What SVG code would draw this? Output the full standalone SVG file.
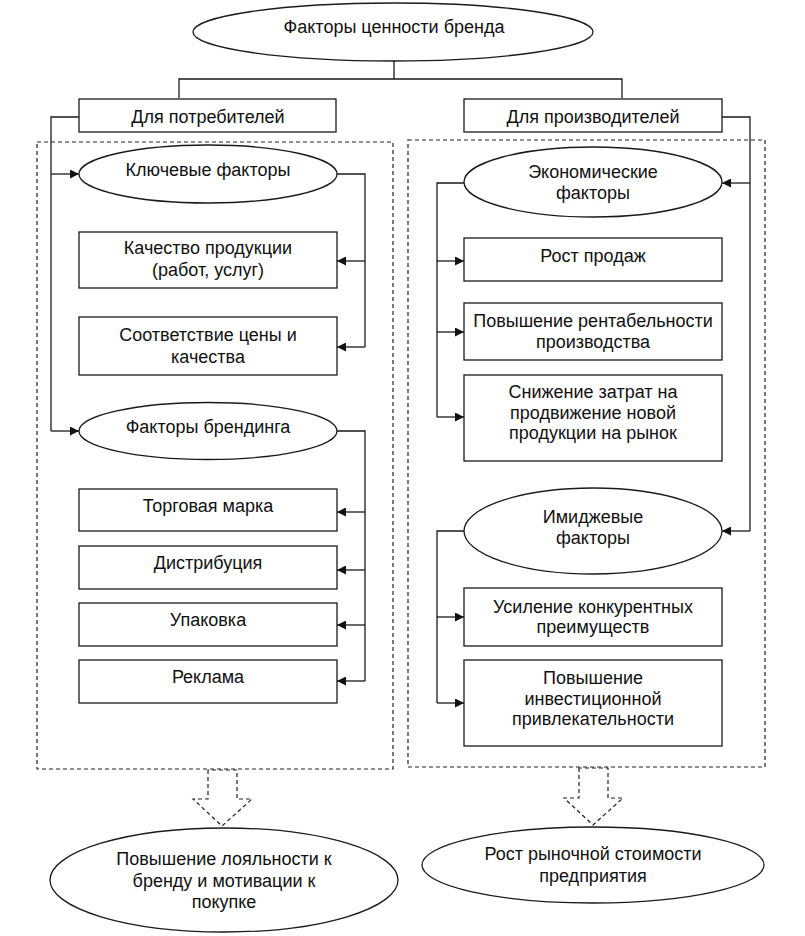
<svg xmlns="http://www.w3.org/2000/svg" width="805" height="936" viewBox="0 0 805 936">
<defs>
<style>
.n{fill:#fff;stroke:#1a1a1a;stroke-width:1.3}
.t{font-family:"Liberation Sans",Arial,sans-serif;font-size:18px;fill:#111;text-anchor:middle}
.tn{font-family:"Liberation Sans Narrow","Liberation Sans",Arial,sans-serif;font-size:18px;fill:#111;text-anchor:middle}
.c{fill:none;stroke:#1a1a1a;stroke-width:1.3}
.d{fill:none;stroke:#222;stroke-width:1.2;stroke-dasharray:4 3}
</style>
<marker id="ah" viewBox="0 0 10 10" refX="10" refY="5" markerWidth="10" markerHeight="9" markerUnits="userSpaceOnUse" orient="auto">
<path d="M0,0 L10,5 L0,10 z" fill="#111"/>
</marker>
</defs>
<rect width="805" height="936" fill="#fff"/>

<g id="groups">
<rect class="d" x="37" y="142" width="356" height="627"/>
<rect class="d" x="408" y="140" width="357" height="627"/>
</g>

<g id="connectors">
<path class="c" d="M394,61 V79 M179,98 V79 H622 V98"/>
<path class="c" d="M79,117 H51 V431"/>
<path class="c" d="M51,174 H79" marker-end="url(#ah)"/>
<path class="c" d="M51,431 H79" marker-end="url(#ah)"/>
<path class="c" d="M337,174 H365 V347"/>
<path class="c" d="M365,261 H337" marker-end="url(#ah)"/>
<path class="c" d="M365,347 H337" marker-end="url(#ah)"/>
<path class="c" d="M337,431 H365 V681"/>
<path class="c" d="M365,512 H337" marker-end="url(#ah)"/>
<path class="c" d="M365,570 H337" marker-end="url(#ah)"/>
<path class="c" d="M365,625 H337" marker-end="url(#ah)"/>
<path class="c" d="M365,681 H337" marker-end="url(#ah)"/>
<path class="c" d="M722,117 H750 V531"/>
<path class="c" d="M750,183 H722" marker-end="url(#ah)"/>
<path class="c" d="M750,531 H722" marker-end="url(#ah)"/>
<path class="c" d="M464,183 H437 V417"/>
<path class="c" d="M437,261 H464" marker-end="url(#ah)"/>
<path class="c" d="M437,332 H464" marker-end="url(#ah)"/>
<path class="c" d="M437,417 H464" marker-end="url(#ah)"/>
<path class="c" d="M464,531 H437 V703"/>
<path class="c" d="M437,617 H464" marker-end="url(#ah)"/>
<path class="c" d="M437,703 H464" marker-end="url(#ah)"/>
<polygon class="d" points="208,770 208,799 193,799 222,826 252,799 237,799 237,770"/>
<polygon class="d" points="579,768 579,798 564,798 593,825 623,798 608,798 608,768"/>
</g>

<g id="root">
<ellipse class="n" cx="393" cy="32" rx="200" ry="29"/>
<text class="tn" x="394" y="33">Факторы ценности бренда</text>
</g>
<g id="consumers">
<rect class="n" x="79" y="99" width="257" height="33"/>
<text class="tn" x="208" y="123">Для потребителей</text>
</g>
<g id="producers">
<rect class="n" x="464" y="99" width="258" height="33"/>
<text class="tn" x="593" y="123">Для производителей</text>
</g>

<g id="key">
<ellipse class="n" cx="208" cy="174" rx="129" ry="29"/>
<text class="t" x="208" y="176">Ключевые факторы</text>
</g>
<g id="quality">
<rect class="n" x="79" y="232" width="258" height="56"/>
<text class="t" x="208" y="254">Качество продукции</text>
<text class="t" x="208" y="276">(работ, услуг)</text>
</g>
<g id="price">
<rect class="n" x="79" y="317" width="258" height="58"/>
<text class="t" x="208" y="341">Соответствие цены и</text>
<text class="t" x="208" y="363">качества</text>
</g>
<g id="branding">
<ellipse class="n" cx="208" cy="431" rx="129" ry="28.5"/>
<text class="t" x="208" y="433">Факторы брендинга</text>
</g>
<g id="trademark">
<rect class="n" x="79" y="489" width="258" height="42"/>
<text class="t" x="208" y="512">Торговая марка</text>
</g>
<g id="distribution">
<rect class="n" x="79" y="546" width="258" height="43"/>
<text class="t" x="208" y="569">Дистрибуция</text>
</g>
<g id="packaging">
<rect class="n" x="79" y="603" width="258" height="43"/>
<text class="t" x="208" y="626">Упаковка</text>
</g>
<g id="advertising">
<rect class="n" x="79" y="660" width="258" height="43"/>
<text class="t" x="208" y="683">Реклама</text>
</g>

<g id="economic">
<ellipse class="n" cx="593" cy="182" rx="129" ry="35"/>
<text class="t" x="593" y="178">Экономические</text>
<text class="t" x="593" y="199">факторы</text>
</g>
<g id="sales">
<rect class="n" x="464" y="238" width="258" height="43"/>
<text class="t" x="593" y="262">Рост продаж</text>
</g>
<g id="profitability">
<rect class="n" x="464" y="303" width="258" height="57"/>
<text class="t" x="593" y="327">Повышение рентабельности</text>
<text class="t" x="593" y="348">производства</text>
</g>
<g id="costs">
<rect class="n" x="464" y="375" width="258" height="86"/>
<text class="t" x="593" y="398">Снижение затрат на</text>
<text class="t" x="593" y="419">продвижение новой</text>
<text class="t" x="593" y="439">продукции на рынок</text>
</g>
<g id="image">
<ellipse class="n" cx="593" cy="531" rx="129" ry="43"/>
<text class="t" x="593" y="523">Имиджевые</text>
<text class="t" x="593" y="544">факторы</text>
</g>
<g id="competitive">
<rect class="n" x="464" y="588" width="258" height="58"/>
<text class="t" x="593" y="613">Усиление конкурентных</text>
<text class="t" x="593" y="633">преимуществ</text>
</g>
<g id="investment">
<rect class="n" x="464" y="660" width="258" height="86"/>
<text class="t" x="593" y="684">Повышение</text>
<text class="t" x="593" y="705">инвестиционной</text>
<text class="t" x="593" y="725">привлекательности</text>
</g>

<g id="loyalty">
<ellipse class="n" cx="224" cy="880" rx="174" ry="52"/>
<text class="tn" x="224" y="865">Повышение лояльности к</text>
<text class="tn" x="224" y="887">бренду и мотивации к</text>
<text class="tn" x="224" y="908">покупке</text>
</g>
<g id="market-value">
<ellipse class="n" cx="593" cy="865" rx="171" ry="38"/>
<text class="tn" x="593" y="860">Рост рыночной стоимости</text>
<text class="tn" x="593" y="882">предприятия</text>
</g>
</svg>
